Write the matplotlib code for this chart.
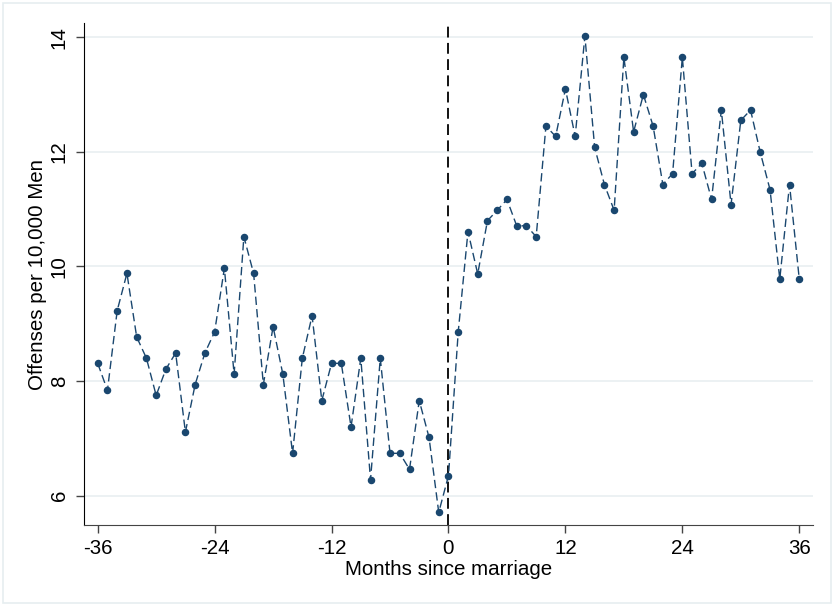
import matplotlib.pyplot as plt
from matplotlib.patches import Rectangle
import numpy as np

plt.rcParams['font.family'] = ['Liberation Sans', 'DejaVu Sans']

# Meses relativos ao casamento
meses = np.arange(-36, 37)

# Ofensas por 10.000 homens
ofensas = [
    8.31, 7.84, 9.23, 9.88, 8.77, 8.40, 7.75, 8.21, 8.49, 7.11,
    7.94, 8.49, 8.86, 9.97, 8.12, 10.52, 9.88, 7.94, 8.95, 8.12,
    6.74, 8.40, 9.14, 7.66, 8.31, 8.31, 7.20, 8.40, 6.28, 8.40,
    6.74, 6.74, 6.46, 7.66, 7.02, 5.71,
    6.35,
    8.86, 10.61, 9.87, 10.80, 10.98, 11.17, 10.71, 10.71, 10.52, 12.45,
    12.27, 13.10, 12.27, 14.02, 12.08, 11.43, 10.98, 13.65, 12.35, 13.00,
    12.45, 11.43, 11.62, 13.65, 11.62, 11.80, 11.17, 12.73, 11.08, 12.55,
    12.73, 11.99, 11.34, 9.78, 11.43, 9.78,
]

xticks = [-36, -24, -12, 0, 12, 24, 36]
yticks = [6, 8, 10, 12, 14]

cor = '#1a476f'
tam = 14.8

fig = plt.figure(figsize=(8.33, 6.05), dpi=100)
ax = fig.add_axes([0.1008, 0.1327, 0.8752, 0.8288])

# moldura externa clara
fig.patches.append(Rectangle((0.004, 0.004), 0.994, 0.991, transform=fig.transFigure,
                             fill=False, edgecolor='#e6eef0', linewidth=1.2))

for y in yticks:
    ax.axhline(y, color='#eaf0f2', linewidth=1.3, zorder=0)

ax.plot(meses, ofensas, color=cor, linestyle=(0, (6, 3)), linewidth=1.0,
        marker='o', markersize=4.4, markerfacecolor=cor, markeredgecolor=cor, zorder=3)
ax.axvline(0, color='black', linestyle=(0, (6, 3)), linewidth=1.3, zorder=2)

ax.set_xlim(-37.41, 37.41)
ax.set_ylim(5.494, 14.244)
ax.set_xticks(xticks)
ax.set_xticklabels([str(t) for t in xticks])
ax.set_yticks(yticks)
ax.set_yticklabels([str(t) for t in yticks], rotation=90, va='center')

ax.spines['top'].set_visible(False)
ax.spines['right'].set_visible(False)
ax.spines['left'].set_color('black')
ax.spines['bottom'].set_color('#444444')
ax.tick_params(axis='both', length=6, width=1, colors='#444444', labelcolor='black',
               labelsize=tam, pad=4)
ax.tick_params(axis='y', pad=5)

ax.set_xlabel('Months since marriage', fontsize=tam, labelpad=1.5)
ax.set_ylabel('Offenses per 10,000 Men', fontsize=tam, labelpad=2)

fig.savefig('out.png', dpi=100)
